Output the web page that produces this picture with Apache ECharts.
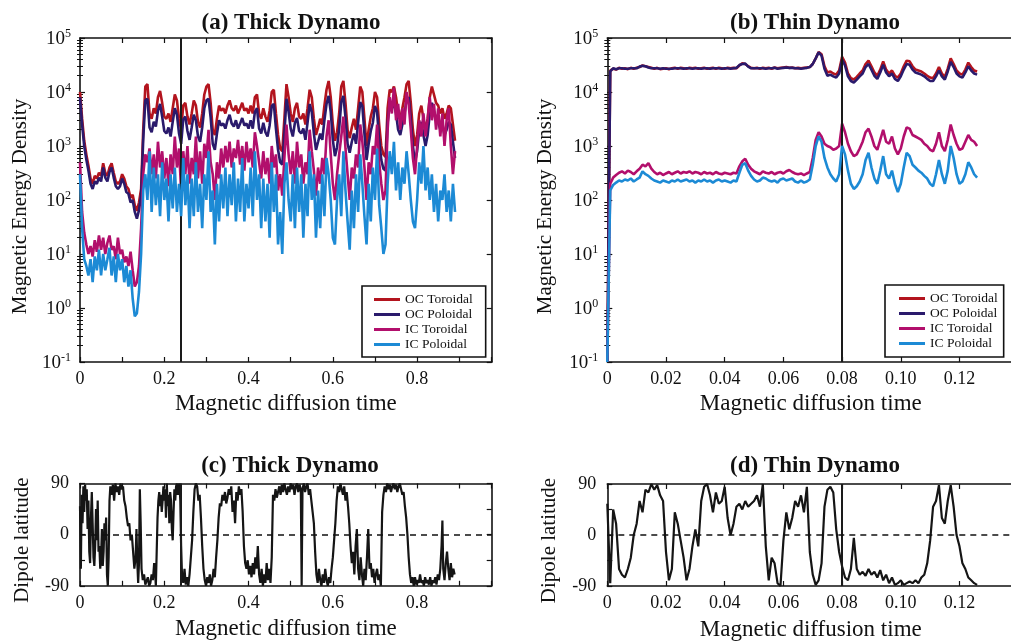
<!DOCTYPE html>
<html><head><meta charset="utf-8">
<script src="https://cdn.jsdelivr.net/npm/echarts@6/dist/echarts.min.js"></script>
<style>html,body{margin:0;padding:0;background:#fff;overflow:hidden}#c{width:1011px;height:641px}</style>
</head><body><div id="c"></div>
<script>
// ---------- data ----------
const seriesNames = ['OC Toroidal','OC Poloidal','IC Toroidal','IC Poloidal'];
const seriesColors = ['#b3141e','#2a1a6c','#b20f6c','#1c8ad5'];

// (a) Thick dynamo, sampled every 0.005 diffusion times from 0 to 0.89
const thickStep = 0.005;
const thickOCToroidal = [
10000,3200,1250,700,430,250,200,280,250,320,
280,480,320,280,400,480,320,220,200,220,
300,250,180,160,110,125,80,63,90,160,
2000,12600,14000,4000,3200,5000,4000,8000,10500,6300,
3500,3200,4000,2800,5000,9000,7000,3200,2000,5600,
6300,3500,2500,4000,7000,5600,2800,2200,4000,9000,
12600,14000,6300,2000,1600,3200,5600,4500,5000,4000,
5600,7000,5000,4500,5600,4000,5000,6300,4500,5000,
4000,5600,4000,8000,9000,4000,3200,5000,3500,2800,
4500,10000,11000,4000,1600,900,800,3200,14000,8000,
4000,2800,5000,6300,3500,3200,4000,2500,5000,11000,
8000,3200,1600,2200,3200,2500,5600,11000,16000,8000,
2500,1250,1800,4000,12600,16000,6300,2000,1400,2200,
3200,2000,5000,12600,10000,3200,1000,2000,3500,5000,
10000,8000,2500,1000,700,630,5000,11000,10000,12600,
8000,4000,3200,5000,8000,14000,16000,6300,2000,1000,
1600,4000,5600,3200,2000,3200,8000,12600,9000,6300,
5600,4000,5000,3200,4000,5600,5000,2500,1250];
const thickOCPoloidal = [
8000,2500,1000,560,350,200,160,220,200,260,
220,400,260,220,330,400,260,180,160,180,
250,200,140,130,90,100,60,45,65,120,
1300,7000,7500,2200,1800,2800,2300,4500,6000,3500,
1900,1700,2200,1500,2800,5000,3800,1700,1100,3100,
3500,1900,1300,2200,3800,3000,1500,1200,2200,5000,
7000,7500,3400,1100,850,1700,3000,2400,2600,2100,
3000,3800,2600,2300,3000,2100,2600,3300,2400,2600,
2100,3000,2100,4300,5000,2100,1700,2700,1800,1500,
2400,5500,6000,2100,850,500,450,1700,7500,4300,
2100,1500,2700,3300,1900,1700,2100,1300,2700,6000,
4300,1700,850,1200,1700,1300,3000,6000,8500,4300,
1300,650,950,2100,6500,8500,3400,1100,750,1200,
1700,1100,2700,6500,5500,1700,550,1100,1900,2700,
5500,4300,1300,550,380,350,2700,6000,5000,6000,
4000,2000,1600,2500,4000,7000,8000,3000,1000,500,
800,2000,2800,1600,1000,1600,4000,6300,4500,3100,
2800,2000,2500,1600,2000,2800,2500,1200,600];
const thickICToroidal = [
500,60,25,15,10,14,9,18,11,22,
12,20,10,16,22,12,14,8,20,10,
12,7,9,6,11,5,2.5,3,6,30,
300,700,500,900,300,700,250,1200,400,800,
250,600,180,700,300,1500,400,900,150,800,
300,1000,200,600,300,1500,250,800,200,1100,
600,2000,500,300,100,500,250,900,400,1000,
500,1200,400,900,600,1300,450,1000,350,1200,
500,900,400,1800,1000,500,250,800,300,600,
200,1000,400,700,150,300,120,600,2500,700,
300,800,200,1200,400,700,200,500,300,2000,
800,350,120,400,200,600,300,1500,3000,700,
200,100,300,700,1500,3500,900,300,100,400,
250,700,400,2500,1200,400,100,500,300,1000,
700,2500,500,200,100,150,2000,8000,4000,12000,
3000,6000,2000,5000,2500,10000,6000,2000,600,300,
1000,3000,1500,4000,1500,3000,8000,3000,6000,2000,
5000,1500,4000,1000,3000,5000,1000,300,800];
const thickICPoloidal = [
300,30,8,6,4,8,3,9,5,12,
4,10,5,8,13,4,9,3,10,5,
8,3,6,2.5,5,1.5,0.7,0.8,2,10,
150,300,100,800,60,400,80,300,50,500,
100,250,40,300,70,400,60,200,50,600,
80,300,30,250,50,500,60,200,30,300,
100,800,60,150,15,200,40,300,70,400,
50,300,80,500,40,250,60,600,40,200,
70,400,50,800,100,300,30,250,40,200,
20,500,60,300,15,60,10,200,500,100,
40,300,30,400,60,300,20,200,50,800,
100,300,20,150,30,300,50,600,300,100,
20,15,100,300,50,800,150,40,12,150,
30,300,60,700,200,50,15,200,40,400,
100,900,80,30,10,15,200,800,300,1200,
150,500,100,400,200,800,300,100,40,30,
100,500,200,1000,150,400,100,300,60,200,
40,150,100,300,60,150,40,200,60];

// (b) Thin dynamo, sampled every 0.001 diffusion times from 0 to 0.126
const thinStep = 0.001;
const thinOCToroidal = [
0.1,25000,27000,26000,28000,27000,27500,26500,28000,27000,
28000,29000,31000,30000,29000,28000,27000,28000,26500,27000,
27500,26500,27500,28000,27000,28000,27500,27000,28000,27500,
28000,27000,27500,28000,27000,27500,28000,27000,28000,27500,
27000,28000,27500,28000,27500,31000,34000,33000,30000,28000,
27500,28000,27000,28000,27500,28000,27000,28500,27500,28000,
28500,29000,28000,28500,27500,28000,27500,28000,28500,29000,
33000,42000,55000,50000,30000,23000,24000,22000,21000,25000,
45000,35000,22000,18000,17000,19000,22000,25000,33000,38000,
30000,23000,20000,26000,37000,26000,22000,25000,20000,18500,
22000,30000,38000,37000,30000,26000,25000,24000,22000,20000,
18500,18000,22000,29000,22000,19000,27000,42000,33000,25000,
22000,21000,26000,35000,29000,25000,24000];
const thinOCPoloidal = [
0.1,24000,27500,26500,27500,27500,27000,27000,27500,27500,
27500,29500,30500,30000,28500,27500,27500,27500,27000,27500,
27000,27000,27000,27500,27500,27500,27000,27500,27500,27000,
27500,27500,27000,27500,27500,27000,27500,27500,27500,27000,
27500,27500,27000,27500,28000,31500,33000,33500,29500,27500,
27500,27500,27500,27500,27000,27500,27500,28000,27000,27500,
28000,28500,28000,28000,27500,27500,27000,27500,28000,29000,
33000,42000,54000,47000,27000,20000,21000,19500,18500,22000,
40000,31000,19500,16000,15000,17000,19500,22000,29000,33000,
26000,20000,17500,23000,32000,23000,19500,22000,17500,16000,
19500,26000,33000,32000,26000,23000,22000,21000,19500,17500,
16000,16000,19500,25000,19500,17000,24000,36000,29000,22000,
19500,18500,23000,30000,25000,22000,21000];
const thinICToroidal = [
0.1,200,260,290,320,340,310,350,330,300,
340,380,450,420,480,380,330,300,320,290,
310,330,300,320,340,310,330,320,340,310,
330,320,300,330,310,320,300,330,310,300,
320,310,300,320,310,420,520,580,450,380,
340,320,300,340,320,310,330,300,320,330,
310,340,360,330,310,300,310,290,310,330,
600,1300,1800,1500,1100,1000,950,850,900,1000,
2600,1800,1100,800,650,700,900,1200,1800,2100,
1500,1000,850,1300,2000,1200,1100,1500,900,700,
900,1500,2200,2100,1600,1500,1400,1300,1100,1000,
850,800,1100,1800,1000,800,1300,2500,1600,1100,
850,900,1200,1600,1300,1200,1000];
const thinICPoloidal = [
0.1,150,190,210,230,220,240,230,250,220,
240,260,340,300,280,250,230,220,210,230,
220,210,230,220,240,220,230,240,220,230,
210,230,220,240,220,230,210,230,240,220,
230,220,210,230,220,320,450,480,350,280,
240,220,230,260,250,230,220,230,210,240,
250,230,240,250,220,210,230,210,220,240,
450,1000,1500,1200,600,400,300,250,220,300,
1000,700,350,200,160,180,220,300,550,750,
400,250,200,350,650,300,250,350,200,140,
200,400,750,650,450,400,350,320,280,250,
200,180,300,550,300,200,350,1000,600,300,
200,220,300,500,400,300,260];

// (c) Thick dynamo dipole latitude (time, degrees)
const thickLatTime = [
0,0.002,0.004,0.006,0.008,0.010,0.012,0.014,0.016,0.018,0.020,0.022,0.024,0.026,0.028,0.030,0.032,0.034,0.036,0.038,
0.040,0.042,0.044,0.046,0.048,0.050,0.052,0.054,0.056,0.058,0.060,0.062,0.064,0.066,0.068,0.070,0.072,0.075,0.078,0.081,
0.084,0.087,0.090,0.093,0.096,0.099,0.102,0.105,0.108,0.111,0.114,0.117,0.120,0.123,0.126,0.129,0.132,0.134,0.136,0.138,
0.140,0.142,0.144,0.146,0.149,0.152,0.155,0.158,0.161,0.164,0.167,0.170,0.173,0.176,0.178,0.180,0.182,0.184,0.186,0.188,
0.190,0.192,0.194,0.196,0.198,0.200,0.202,0.204,0.206,0.208,0.210,0.212,0.214,0.216,0.218,0.220,0.222,0.224,0.226,0.228,
0.230,0.232,0.234,0.236,0.238,0.240,0.242,0.245,0.248,0.251,0.254,0.257,0.260,0.263,0.266,0.269,0.272,0.275,0.278,0.281,
0.284,0.287,0.290,0.293,0.296,0.299,0.302,0.305,0.308,0.311,0.314,0.317,0.320,0.323,0.326,0.329,0.332,0.335,0.338,0.341,
0.344,0.347,0.350,0.353,0.356,0.359,0.362,0.365,0.368,0.371,0.374,0.377,0.380,0.383,0.386,0.389,0.392,0.395,0.398,0.401,
0.404,0.407,0.410,0.413,0.416,0.419,0.422,0.425,0.428,0.431,0.434,0.437,0.440,0.443,0.446,0.449,0.452,0.455,0.458,0.461,
0.464,0.467,0.470,0.473,0.476,0.479,0.482,0.485,0.488,0.491,0.494,0.497,0.500,0.503,0.506,0.509,0.512,0.515,0.518,0.521,
0.524,0.526,0.528,0.531,0.534,0.537,0.540,0.543,0.546,0.549,0.552,0.555,0.558,0.561,0.564,0.567,0.570,0.573,0.576,0.579,
0.582,0.585,0.588,0.591,0.594,0.597,0.600,0.603,0.606,0.609,0.612,0.615,0.618,0.621,0.624,0.627,0.630,0.633,0.636,0.639,
0.642,0.645,0.648,0.651,0.654,0.657,0.660,0.663,0.666,0.669,0.672,0.675,0.678,0.681,0.684,0.687,0.690,0.693,0.696,0.699,
0.702,0.705,0.708,0.711,0.714,0.717,0.720,0.723,0.726,0.729,0.732,0.735,0.738,0.741,0.744,0.747,0.750,0.753,0.756,0.759,
0.762,0.765,0.768,0.771,0.774,0.777,0.780,0.783,0.786,0.789,0.792,0.795,0.798,0.801,0.804,0.807,0.810,0.813,0.816,0.819,
0.822,0.825,0.828,0.831,0.834,0.837,0.840,0.843,0.846,0.849,0.852,0.855,0.858,0.860,0.862,0.865,0.868,0.871,0.874,0.877,
0.880,0.883,0.886,0.889];
const thickLatitude = [
50,-60,70,20,85,40,88,60,80,10,60,-30,-50,30,75,20,-40,-55,-20,45,
-10,60,-30,-20,-60,-40,10,-55,-30,20,-10,30,-70,-90,-40,60,85,70,88,60,
90,75,85,70,90,80,85,60,50,30,15,20,-10,0,-30,-60,-40,10,-50,-85,
-50,80,20,-60,-80,-70,-88,-85,-75,-90,-85,-70,-80,-50,-65,-90,-30,30,60,75,
50,70,40,60,85,60,80,30,90,50,70,20,75,60,10,-10,40,80,60,85,
90,70,85,90,60,-20,-70,-85,-60,-88,-75,-90,-70,-40,-10,40,80,90,85,60,
70,30,-20,-60,-80,-90,-75,-85,-70,-90,-80,-60,-75,-40,-10,30,55,50,70,60,
75,55,65,80,70,85,40,60,20,75,60,85,70,80,40,-20,-50,-60,-45,-70,
-55,-75,-50,-70,-40,-60,-20,-70,-85,-60,-90,-70,-85,-50,-80,-60,-85,-40,70,60,
80,65,75,85,70,88,75,90,80,70,85,75,90,80,88,70,85,90,75,88,
80,-90,80,90,75,85,90,70,80,60,40,20,-30,-70,-85,-60,-80,-90,-70,-85,
-60,-80,-90,-75,-85,-60,-40,-10,20,60,85,75,90,80,70,85,60,75,50,20,
-20,-50,-30,-70,-20,10,-60,-80,-40,-70,-90,-60,-80,-40,10,-60,-50,-75,-60,-85,
-70,-60,-80,-70,-90,40,70,85,75,90,80,88,75,85,90,80,88,75,85,90,
80,70,75,50,30,0,-40,-70,-85,-75,-90,-75,-88,-80,-85,-70,-85,-80,-90,-75,
-85,-80,-88,-75,-90,-80,-85,-75,-88,-70,-80,-60,-20,25,-60,-80,-50,-30,-60,-80,
-50,-75,-60,-70];

// (d) Thin dynamo dipole latitude, sampled every 0.001 from 0 to 0.126
const thinLatitude = [
55,-85,45,20,-60,-70,-75,-60,-40,0,
20,60,40,80,75,90,80,88,70,60,
-30,-80,-60,40,20,-10,-40,-80,-60,-20,
10,-20,60,85,90,70,40,75,55,60,
85,30,0,20,50,55,45,60,50,55,
60,70,50,90,-20,-80,-40,-50,-85,-90,
-10,40,10,30,60,50,70,40,85,-30,
-70,-88,-80,-50,50,80,85,75,10,-30,
-55,-75,-80,-60,-5,-60,-70,-65,-72,-60,
-70,-65,-75,-62,-80,-70,-85,-75,-88,-85,
-80,-88,-85,-82,-85,-80,-85,-75,-70,-50,
-10,50,60,88,30,20,60,88,50,0,
-20,-50,-60,-75,-80,-85,-88];

// axis ticks / markers
const thickTickLabels = [0, 0.2, 0.4, 0.6, 0.8];
const thinTickLabels = [0, 0.02, 0.04, 0.06, 0.08, 0.10, 0.12];
const latTickLabels = [-90, 0, 90];
const logDecades = [-1, 0, 1, 2, 3, 4];
const logMinorMultipliers = [2, 3, 4, 5, 6, 7, 8, 9];
const thickMarker = 0.2435;
const thinMarkerB = 0.079;
const thinMarkerD = 0.0785;

// ---------- chart ----------
const FONT = 'Liberation Serif';
const chart = echarts.init(document.getElementById('c'), null, {renderer: 'canvas'});
const THIN_MAX = 0.1414;

const grids = [
  {left: 80, top: 38, width: 411.7, height: 324},
  {left: 607.3, top: 38, width: 415, height: 324},
  {left: 80, top: 483.5, width: 411.7, height: 102.3},
  {left: 607.3, top: 484, width: 415, height: 102}
].map(g => Object.assign(g, {outerBoundsMode: 'none', containLabel: false}));

function isTick(v, list) { return list.some(t => Math.abs(t - v) < 1e-7); }
const thickFmt = v => isTick(v, thickTickLabels) ? (v === 0 ? '0' : v.toFixed(1)) : '';
const thinFmt = v => isTick(v, thinTickLabels) ? (Math.abs(v) < 1e-9 ? '0' : v.toFixed(2)) : '';
const latFmt = v => isTick(v, latTickLabels) ? String(v) : '';
const logFmt = v => '{b|10}{s|' + Math.round(Math.log10(v)) + '}';
const minorLogTicks = [];
logDecades.forEach(d => logMinorMultipliers.forEach(m => minorLogTicks.push(m * Math.pow(10, d))));

const axisLineStyle = {show: true, onZero: false, lineStyle: {color: '#111', width: 1.6}};
const tickStyle = {show: true, inside: true, length: 5, lineStyle: {color: '#111', width: 1.2}};
const nameStyle = {fontFamily: FONT, fontSize: 23, color: '#111'};

function xAxes(g, max, interval, fmt, gap, namePad) {
  return [
    {type: 'value', gridIndex: g, min: 0, max: max, interval: interval, position: 'bottom',
     axisLine: axisLineStyle, axisTick: tickStyle, splitLine: {show: false},
     axisLabel: {formatter: fmt, color: '#111', fontFamily: FONT, fontSize: 18, margin: 8, hideOverlap: false},
     name: 'Magnetic diffusion time', nameLocation: 'middle', nameGap: gap,
     nameTextStyle: Object.assign({}, nameStyle, {padding: [0, namePad, 0, 0]})},
    {type: 'value', gridIndex: g, min: 0, max: max, interval: interval, position: 'top',
     axisLine: axisLineStyle, axisTick: tickStyle, splitLine: {show: false}, axisLabel: {show: false}}
  ];
}
function logYAxes(g, gap) {
  const minor = (pos) => ({type: 'log', logBase: 10, gridIndex: g, min: 0.1, max: 100000, position: pos,
     axisLine: {show: false}, splitLine: {show: false}, axisLabel: {show: false},
     axisTick: {show: true, inside: true, length: 3, customValues: minorLogTicks, lineStyle: {color: '#111', width: 1}}});
  return [
    {type: 'log', logBase: 10, gridIndex: g, min: 0.1, max: 100000, position: 'left',
     axisLine: axisLineStyle, axisTick: tickStyle, splitLine: {show: false},
     axisLabel: {formatter: logFmt, margin: 9,
       rich: {b: {fontFamily: FONT, fontSize: 19, color: '#111', verticalAlign: 'bottom'},
              s: {fontFamily: FONT, fontSize: 12, color: '#111', verticalAlign: 'bottom', padding: [0, 0, 9, 0]}}},
     name: 'Magnetic Energy Density', nameLocation: 'middle', nameGap: gap,
     nameTextStyle: Object.assign({}, nameStyle, {fontSize: 21, padding: [0, 13, 0, 0]})},
    {type: 'log', logBase: 10, gridIndex: g, min: 0.1, max: 100000, position: 'right',
     axisLine: axisLineStyle, axisTick: tickStyle, splitLine: {show: false}, axisLabel: {show: false}},
    minor('left'), minor('right')
  ];
}
function latYAxes(g, gap) {
  return [
    {type: 'value', gridIndex: g, min: -90, max: 90, interval: 45, position: 'left',
     axisLine: axisLineStyle, axisTick: tickStyle, splitLine: {show: false},
     axisLabel: {formatter: latFmt, color: '#111', fontFamily: FONT, fontSize: 18, margin: 11},
     name: 'Dipole latitude', nameLocation: 'middle', nameGap: gap,
     nameTextStyle: Object.assign({}, nameStyle, {fontSize: 21, padding: [0, 11, 0, 0]})},
    {type: 'value', gridIndex: g, min: -90, max: 90, interval: 45, position: 'right',
     axisLine: axisLineStyle, axisTick: tickStyle, splitLine: {show: false}, axisLabel: {show: false}}
  ];
}

const xAxis = [].concat(
  xAxes(0, 0.977, 0.1, thickFmt, 28, 0),
  xAxes(1, THIN_MAX, 0.02, thinFmt, 28, 8),
  xAxes(2, 0.977, 0.1, thickFmt, 32, 0),
  xAxes(3, THIN_MAX, 0.02, thinFmt, 32, 8)
);
// y axis indices: grid0 -> 0..3, grid1 -> 4..7, grid2 -> 8..9, grid3 -> 10..11
const yAxis = [].concat(logYAxes(0, 49), logYAxes(1, 51), latYAxes(2, 47), latYAxes(3, 47));
const yIndex = [0, 4, 8, 10];

function pairsStep(values, step) { return values.map((v, i) => [i * step, v]); }

const markerLine = (x) => ({xAxis: x, lineStyle: {color: '#1a1a1a', width: 2, type: 'solid'}});
function energySeries(g, sets, step, marker) {
  return sets.map((vals, k) => ({
    type: 'line', name: seriesNames[k], xAxisIndex: g * 2, yAxisIndex: yIndex[g],
    data: pairsStep(vals, step), showSymbol: false, symbol: 'none', animation: false,
    lineStyle: {color: seriesColors[k], width: 2.6}, itemStyle: {color: seriesColors[k]},
    z: 2 + k,
    markLine: k === 3 ? {silent: true, symbol: 'none', label: {show: false}, animation: false,
      data: [markerLine(marker)]} : undefined
  }));
}
function latSeries(g, data, marker) {
  return {
    type: 'line', name: 'Dipole latitude ' + g, xAxisIndex: g * 2, yAxisIndex: yIndex[g],
    data: data, showSymbol: false, symbol: 'none', animation: false,
    lineStyle: {color: '#151515', width: 2.2}, itemStyle: {color: '#151515'},
    markLine: {silent: true, symbol: 'none', label: {show: false}, animation: false,
      data: [markerLine(marker), {yAxis: 0, lineStyle: {color: '#111', width: 1.6, type: [6, 5]}}]}
  };
}

const series = [].concat(
  energySeries(0, [thickOCToroidal, thickOCPoloidal, thickICToroidal, thickICPoloidal], thickStep, thickMarker),
  energySeries(1, [thinOCToroidal, thinOCPoloidal, thinICToroidal, thinICPoloidal], thinStep, thinMarkerB),
  [latSeries(2, thickLatTime.map((t, i) => [t, thickLatitude[i]]), thickMarker),
   latSeries(3, pairsStep(thinLatitude, thinStep), thinMarkerD)]
);

const titleStyle = {fontFamily: FONT, fontWeight: 'bold', fontSize: 23, color: '#111'};
const legendBase = {
  data: seriesNames, orient: 'vertical', itemGap: 0, itemWidth: 26, itemHeight: 3, icon: 'rect',
  borderColor: '#111', borderWidth: 1.6, backgroundColor: '#fff', selectedMode: false,
  textStyle: {fontFamily: FONT, fontSize: 13.5, color: '#111', lineHeight: 15}
};

chart.setOption({
  animation: false,
  backgroundColor: '#fff',
  title: [
    {text: '(a) Thick Dynamo', left: 286, top: 7, textAlign: 'center', textStyle: titleStyle},
    {text: '(b) Thin Dynamo', left: 810, top: 7, textAlign: 'center', textStyle: titleStyle},
    {text: '(c) Thick Dynamo', left: 285, top: 450, textAlign: 'center', textStyle: titleStyle},
    {text: '(d) Thin Dynamo', left: 810, top: 450, textAlign: 'center', textStyle: titleStyle}
  ],
  legend: [
    Object.assign({}, legendBase, {left: 362, top: 286, padding: [6, 13, 5, 12]}),
    Object.assign({}, legendBase, {left: 885, top: 285, padding: [6, 6, 6, 14]})
  ],
  grid: grids,
  xAxis: xAxis,
  yAxis: yAxis,
  series: series
});
</script>
</body></html>
